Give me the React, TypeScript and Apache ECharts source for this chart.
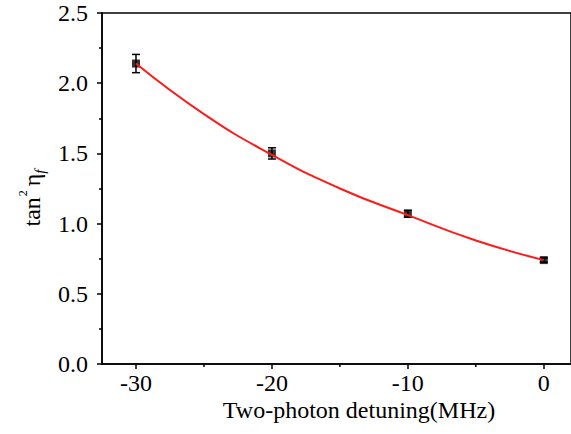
import React, { useEffect, useRef } from "react";
import * as echarts from "echarts";

const detuning = [-30, -20, -10, 0];
const tanSq = [2.14, 1.5, 1.07, 0.74];
const errs = [0.065, 0.04, 0.025, 0.015];
const fitX = [-30, -25, -20, -15, -10, -5, 0];
const fitY = [2.14, 1.78, 1.49, 1.25, 1.06, 0.88, 0.74];
const xMajor = [-30, -20, -10, 0];
const xMinor = [-25, -15, -5];
const xName = "Two-photon detuning(MHz)";

const FONT = "Liberation Serif";

export default function App() {
  const ref = useRef<HTMLDivElement>(null);
  useEffect(() => {
    if (!ref.current) return;
    const chart = echarts.init(ref.current, null, { renderer: "svg" });
    const xMin = -32.5;
    const xMax = 2;
    const ls = () => ({ color: "#000", width: 1.5 });
    chart.setOption({
      animation: false,
      grid: {
        left: 102, top: 13, right: -1, bottom: 70,
        show: true, borderColor: "#000", borderWidth: 1.5, backgroundColor: "transparent",
      },
      xAxis: {
        type: "value",
        min: xMin,
        max: xMax,
        axisLine: { show: true, onZero: false, lineStyle: ls() },
        axisTick: { show: true, customValues: xMajor, length: 5, lineStyle: ls() },
        axisLabel: {
          customValues: xMajor,
          fontSize: 24,
          color: "#000",
          fontFamily: FONT,
          margin: 7,
        },
        splitLine: { show: false },
      },
      yAxis: {
        type: "value",
        min: 0,
        max: 2.5,
        interval: 0.5,
        axisLine: { show: true, onZero: false, lineStyle: ls() },
        axisTick: { show: true, length: 5, lineStyle: ls() },
        minorTick: { show: true, splitNumber: 2, length: 3, lineStyle: ls() },
        axisLabel: {
          fontSize: 24,
          color: "#000",
          fontFamily: FONT,
          margin: 14,
          formatter: (v: number) => v.toFixed(1),
        },
        splitLine: { show: false },
        minorSplitLine: { show: false },
      },
      graphic: [
        {
          type: "text",
          x: 359,
          y: 410,
          style: {
            text: xName,
            fontSize: 24,
            fontFamily: FONT,
            fill: "#000",
            align: "center",
            verticalAlign: "middle",
          },
        },
        {
          type: "text",
          x: 32,
          y: 198,
          rotation: Math.PI / 2,
          style: {
            text: "{a|tan}{b|2}{c|η}{d|f}",
            align: "center",
            verticalAlign: "middle",
            fill: "#000",
            rich: {
              a: { fontSize: 24, fontFamily: FONT, fill: "#000", lineHeight: 30, verticalAlign: "middle" },
              b: { fontSize: 12, fontFamily: FONT, fill: "#000", lineHeight: 30, verticalAlign: "top", padding: [0, 4, 0, 1] },
              c: { fontSize: 24, fontFamily: FONT, fill: "#000", lineHeight: 30, verticalAlign: "middle" },
              d: { fontSize: 15, fontFamily: FONT, fontStyle: "italic", fill: "#000", lineHeight: 30, verticalAlign: "bottom" },
            },
          },
        },
      ],
      series: [
        {
          type: "custom",
          silent: true,
          z: 2,
          data: xMinor.map((v) => [v, 0]),
          renderItem: (params: any, api: any) => {
            const p = api.coord([api.value(0), api.value(1)]);
            return {
              type: "line",
              shape: { x1: p[0], y1: p[1], x2: p[0], y2: p[1] + 3 },
              style: { stroke: "#000", lineWidth: 1.5 },
            };
          },
          clip: false,
        },
        {
          type: "custom",
          z: 3,
          data: detuning.map((d, i) => [d, tanSq[i] - errs[i], tanSq[i] + errs[i]]),
          renderItem: (params: any, api: any) => {
            const x = api.value(0);
            const lo = api.coord([x, api.value(1)]);
            const hi = api.coord([x, api.value(2)]);
            const hw = 4;
            const st = { stroke: "#000", lineWidth: 1.5 };
            return {
              type: "group",
              children: [
                { type: "line", shape: { x1: lo[0], y1: lo[1], x2: hi[0], y2: hi[1] }, style: st },
                { type: "line", shape: { x1: lo[0] - hw, y1: lo[1], x2: lo[0] + hw, y2: lo[1] }, style: st },
                { type: "line", shape: { x1: hi[0] - hw, y1: hi[1], x2: hi[0] + hw, y2: hi[1] }, style: st },
              ],
            };
          },
        },
        {
          type: "scatter",
          z: 4,
          symbol: "rect",
          symbolSize: 8,
          itemStyle: { color: "#000" },
          data: detuning.map((d, i) => [d, tanSq[i]]),
        },
        {
          type: "line",
          z: 5,
          smooth: true,
          showSymbol: false,
          lineStyle: { color: "#ff1a1a", width: 2 },
          data: fitX.map((d, i) => [d, fitY[i]]),
        },
      ],
    });
    return () => chart.dispose();
  }, []);
  return (
    <div
      ref={ref}
      style={{ position: "fixed", left: 0, top: 0, width: 571, height: 434, background: "#fff" }}
    />
  );
}
